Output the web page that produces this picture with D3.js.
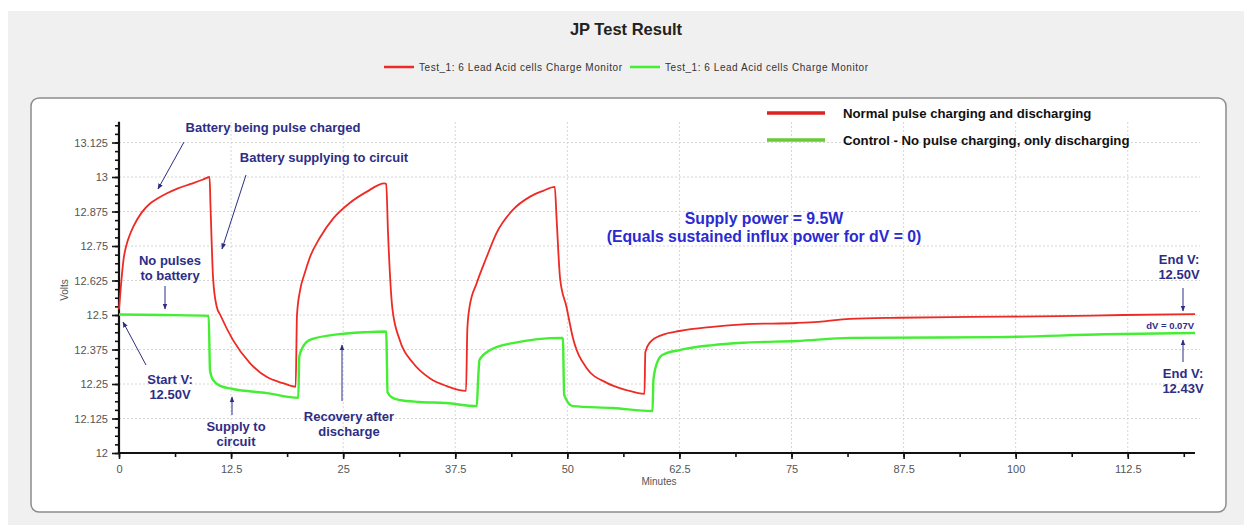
<!DOCTYPE html>
<html>
<head>
<meta charset="utf-8">
<script src="https://cdn.jsdelivr.net/npm/d3@7"></script>
<style>
  body { margin: 0; background: #fff; }
  svg { display: block; font-family: "Liberation Sans", Arial, sans-serif; }
</style>
</head>
<body>
<div id="chart"></div>
<script>
// minutes / volts
var pulseT = [0, 0.2, 0.5, 0.8, 1.2, 1.6, 2.5, 3.5, 4.2, 5.3, 6.5, 8, 9.3, 10.1,
  10.2, 10.5, 10.9, 11.3, 12.7, 14.6, 16.5, 18.3, 19.7,
  19.85, 20.2, 20.7, 21.3, 22.4, 23.9, 25.7, 27.6, 29.6,
  29.8, 30.0, 30.5, 31.3, 32.8, 34.7, 36.5, 38.7,
  38.85, 39.1, 39.9, 41, 42.1, 43.9, 45.8, 47.3, 48.6,
  48.8, 49.2, 49.9, 50.6, 52.1, 54.4, 56.6, 58.6,
  58.7, 59.2, 60.6, 62.5, 66.2, 70, 75.6, 78, 81.5, 87, 95, 104.9, 112, 120];
var pulseV = [12.52, 12.6, 12.7, 12.75, 12.79, 12.82, 12.87, 12.905, 12.92, 12.94, 12.958, 12.975, 12.99, 13.0,
  12.9, 12.63, 12.53, 12.5, 12.41, 12.326, 12.275, 12.253, 12.24,
  12.5, 12.59, 12.65, 12.71, 12.78, 12.85, 12.905, 12.946, 12.977,
  12.975, 12.8, 12.52, 12.41, 12.326, 12.27, 12.243, 12.225,
  12.45, 12.53, 12.616, 12.71, 12.797, 12.88, 12.928, 12.95, 12.964,
  12.85, 12.63, 12.53, 12.42, 12.31, 12.254, 12.228, 12.214,
  12.366, 12.40, 12.428, 12.442, 12.457, 12.467, 12.471, 12.475, 12.486, 12.49, 12.493, 12.496, 12.5, 12.503];

var controlT = [0, 5, 10.0, 10.15, 10.5, 11.3, 12.7, 16.5, 20,
  20.1, 20.5, 21.3, 23.9, 27.6, 29.8,
  29.95, 30.5, 31.3, 33.5, 36.5, 39.9,
  40.05, 40.2, 41.4, 43.9, 49.5,
  49.65, 50.6, 55.1, 59.5,
  59.6, 60, 60.6, 62.5, 66.2, 70, 75.6, 81.5, 98, 110, 120];
var controlV = [12.502, 12.5, 12.497, 12.3, 12.264, 12.243, 12.232, 12.217, 12.2,
  12.348, 12.384, 12.41, 12.428, 12.438, 12.44,
  12.22, 12.2, 12.192, 12.185, 12.181, 12.17,
  12.264, 12.337, 12.373, 12.398, 12.417,
  12.21, 12.17, 12.163, 12.152,
  12.264, 12.326, 12.355, 12.373, 12.391, 12.4, 12.406, 12.417, 12.42, 12.43, 12.435];

var xTicks = [0, 12.5, 25, 37.5, 50, 62.5, 75, 87.5, 100, 112.5];
var yTicks = [12, 12.125, 12.25, 12.375, 12.5, 12.625, 12.75, 12.875, 13, 13.125];
var seriesNames = ["Test_1: 6 Lead Acid cells Charge Monitor", "Test_1: 6 Lead Acid cells Charge Monitor"];
var legendNames = ["Normal pulse charging and discharging", "Control - No pulse charging, only discharging"];
var colors = ["#ee2a24", "#44ee33"];

var W = 1244, H = 525;
var svg = d3.select("#chart").append("svg").attr("width", W).attr("height", H);

// outer grey panel and inner white box
svg.append("rect").attr("x", 8).attr("y", 11).attr("width", W - 8).attr("height", H - 11).attr("fill", "#f0f0f0");
svg.append("rect").attr("x", 31).attr("y", 98).attr("width", 1195).attr("height", 414)
  .attr("rx", 8).attr("fill", "#fff").attr("stroke", "#8c8c8c").attr("stroke-width", 1.5);

// title and top legend
svg.append("text").attr("x", 626).attr("y", 35).attr("text-anchor", "middle")
  .style("font-size", "16.5px").style("font-weight", "bold").attr("fill", "#222").text("JP Test Result");

var topLeg = [{x: 384, tx: 419}, {x: 630, tx: 665}];
topLeg.forEach(function (d, i) {
  svg.append("line").attr("x1", d.x).attr("x2", d.x + 30).attr("y1", 67).attr("y2", 67)
    .attr("stroke", colors[i]).attr("stroke-width", 2.5);
  svg.append("text").attr("x", d.tx).attr("y", 70.5).style("font-size", "10px").attr("fill", "#333")
    .attr("textLength", 203).text(seriesNames[i]);
});

// scales
var x = d3.scaleLinear().domain([0, 120]).range([119, 1195]);
var y = d3.scaleLinear().domain([12, 13.2]).range([453, 121.8]);

// grid
var grid = svg.append("g").attr("stroke", "#d6d6d6").attr("stroke-dasharray", "2,2").attr("stroke-width", 1);
xTicks.slice(1).forEach(function (t) {
  grid.append("line").attr("x1", x(t)).attr("x2", x(t)).attr("y1", 122).attr("y2", 453);
});
yTicks.slice(1).forEach(function (v) {
  grid.append("line").attr("x1", 119).attr("x2", 1200).attr("y1", y(v)).attr("y2", y(v));
});

// axes
var minorY = d3.range(0, 39).map(function (i) { return 12 + i * 0.03125; });
var minorX = d3.range(0, 20).map(function (i) { return i * 6.25; });

var yAxis = svg.append("g").attr("transform", "translate(119,0)")
  .call(d3.axisLeft(y).tickValues(yTicks).tickSize(7).tickPadding(4).tickFormat(function (d) { return d; }));
svg.append("g").attr("transform", "translate(119,0)")
  .call(d3.axisLeft(y).tickValues(minorY).tickSize(4).tickFormat(""))
  .call(function (g) { g.select(".domain").remove(); });
var xAxis = svg.append("g").attr("transform", "translate(0,453)")
  .call(d3.axisBottom(x).tickValues(xTicks).tickSize(6).tickPadding(6).tickFormat(function (d) { return d; }));
svg.append("g").attr("transform", "translate(0,453)")
  .call(d3.axisBottom(x).tickValues(minorX).tickSize(4).tickFormat(""))
  .call(function (g) { g.select(".domain").remove(); });

svg.selectAll(".domain").attr("stroke", "#111").attr("stroke-width", 2.2);
svg.selectAll(".tick line").attr("stroke", "#111").attr("stroke-width", 1.6);
svg.selectAll(".tick text").attr("fill", "#555").style("font-size", "11px").style("font-family", "'Liberation Sans', Arial, sans-serif");
yAxis.select(".domain").attr("d", "M0," + y(12) + "V" + y(13.2));
xAxis.select(".domain").attr("d", "M" + x(0) + ",0H" + x(120));

svg.append("text").attr("transform", "translate(68,290) rotate(-90)").attr("text-anchor", "middle")
  .style("font-size", "10px").attr("fill", "#555").text("Volts");
svg.append("text").attr("x", 659).attr("y", 485).attr("text-anchor", "middle")
  .style("font-size", "10px").attr("fill", "#555").text("Minutes");

// series lines
var line = d3.line().curve(d3.curveMonotoneX)
  .x(function (d) { return x(d[0]); }).y(function (d) { return y(d[1]); });
var series = [d3.zip(pulseT, pulseV), d3.zip(controlT, controlV)];
svg.selectAll(".series").data(series.slice().reverse()).enter().append("path")
  .attr("class", "series")
  .attr("d", line)
  .attr("fill", "none")
  .attr("stroke", function (d, i) { return colors[1 - i]; })
  .attr("stroke-width", function (d, i) { return i === 0 ? 2.4 : 1.8; })
  .attr("stroke-linejoin", "round");

// inner legend
legendNames.forEach(function (n, i) {
  var ly = 113 + i * 27;
  svg.append("line").attr("x1", 767).attr("x2", 825).attr("y1", ly).attr("y2", ly)
    .attr("stroke", i === 0 ? "#dd2222" : "#66cc33").attr("stroke-width", 3.5);
  svg.append("text").attr("x", 843).attr("y", ly + 4.5).style("font-size", "13.2px").style("font-weight", "bold")
    .attr("fill", "#111").text(n);
});

// annotations
var navy = "#2d2d86";
var defs = svg.append("defs");
defs.append("marker").attr("id", "ah").attr("viewBox", "0 0 10 10").attr("refX", 9).attr("refY", 5)
  .attr("markerWidth", 6).attr("markerHeight", 6).attr("orient", "auto")
  .append("path").attr("d", "M0,1L10,5L0,9Z").attr("fill", navy);

var notes = [
  {x: 273, y: 132, lines: ["Battery being pulse charged"]},
  {x: 324, y: 162, lines: ["Battery supplying to circuit"]},
  {x: 170, y: 265, lines: ["No pulses", "to battery"]},
  {x: 170, y: 384, lines: ["Start V:", "12.50V"]},
  {x: 236, y: 431, lines: ["Supply to", "circuit"]},
  {x: 349, y: 421, lines: ["Recovery after", "discharge"]},
  {x: 1179, y: 264, lines: ["End V:", "12.50V"]},
  {x: 1183, y: 378, lines: ["End V:", "12.43V"]}
];
notes.forEach(function (n) {
  var t = svg.append("text").attr("text-anchor", "middle").style("font-size", "13px")
    .style("font-weight", "bold").attr("fill", navy);
  n.lines.forEach(function (s, k) {
    t.append("tspan").attr("x", n.x).attr("y", n.y + k * 15).text(s);
  });
});
svg.append("text").attr("x", 1194).attr("y", 329).attr("text-anchor", "end").style("font-size", "9.5px")
  .style("font-weight", "bold").attr("fill", navy).text("dV = 0.07V");

var blue = "#2a2ad0";
svg.append("text").attr("x", 764).attr("y", 224).attr("text-anchor", "middle").style("font-size", "15.8px")
  .style("font-weight", "bold").attr("fill", blue).text("Supply power = 9.5W");
svg.append("text").attr("x", 764).attr("y", 242).attr("text-anchor", "middle").style("font-size", "15.8px")
  .style("font-weight", "bold").attr("fill", blue).text("(Equals sustained influx power for dV = 0)");

var arrows = [
  [184, 142, 158, 189], [246, 175, 222, 249], [165, 286, 165, 309], [146, 365, 123, 322],
  [232, 415, 232, 397], [342, 401, 342, 345], [1183, 288, 1183, 311], [1183, 362, 1183, 340]
];
arrows.forEach(function (a) {
  svg.append("line").attr("x1", a[0]).attr("y1", a[1]).attr("x2", a[2]).attr("y2", a[3])
    .attr("stroke", navy).attr("stroke-width", 1).attr("marker-end", "url(#ah)");
});
</script>
</body>
</html>
